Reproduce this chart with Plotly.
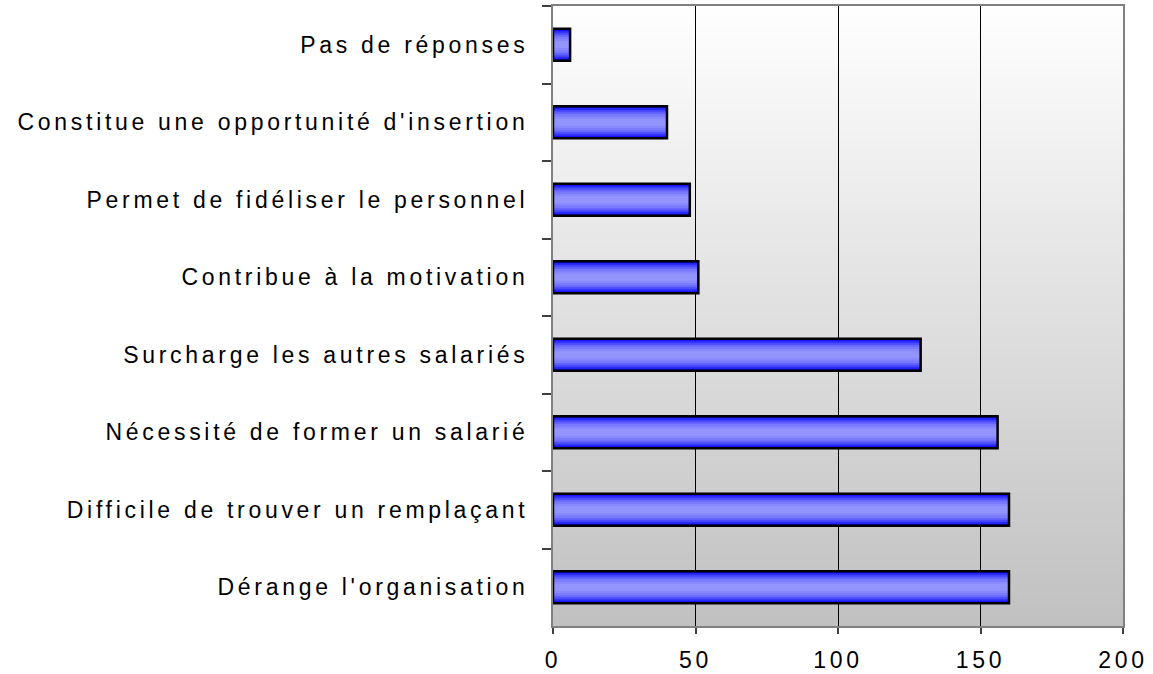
import plotly.graph_objects as go

# Data (top to bottom)
categories = [
    "Pas de réponses",
    "Constitue une opportunité d'insertion",
    "Permet de fidéliser le personnel",
    "Contribue à la motivation",
    "Surcharge les autres salariés",
    "Nécessité de former un salarié",
    "Difficile de trouver un remplaçant",
    "Dérange l'organisation",
]
values = [6, 40, 48, 51, 129, 156, 160, 160]
x_ticks = [0, 50, 100, 150, 200]

fig = go.Figure()

# Gradient-looking bars: overlaid bars of decreasing thickness
layers = [
    (0.41, "#0c0cf2"),
    (0.36, "#2c2cfa"),
    (0.31, "#4c4cff"),
    (0.26, "#6666ff"),
    (0.21, "#7a7aff"),
    (0.15, "#8888ff"),
    (0.09, "#9494ff"),
]
for w, c in layers:
    fig.add_trace(go.Bar(
        x=values, y=categories, orientation="h", width=w,
        marker=dict(color=c, line=dict(width=0)),
        hoverinfo="skip", showlegend=False,
    ))
# outline
fig.add_trace(go.Bar(
    x=values, y=categories, orientation="h", width=0.41,
    marker=dict(color="rgba(0,0,0,0)", line=dict(color="black", width=2.5)),
    hoverinfo="skip", showlegend=False,
))

# Background vertical gradient (white -> light gray) in plot area
n = 60
shapes = []
for i in range(n):
    t = (i + 0.5) / n
    g = round(255 - (255 - 192) * t)
    shapes.append(dict(
        type="rect", xref="x domain", yref="y domain",
        x0=0, x1=1, y0=1 - (i + 1) / n - 0.002, y1=1 - i / n,
        fillcolor=f"rgb({g},{g},{g})", line=dict(width=0), layer="below",
    ))

fig.update_layout(
    width=1153, height=674,
    margin=dict(l=553, r=30, t=6, b=48),
    paper_bgcolor="white",
    plot_bgcolor="white",
    barmode="overlay",
    shapes=shapes,
    font=dict(family="Liberation Sans, Arial, sans-serif", size=23, color="black"),
    xaxis=dict(
        range=[0, 200], tickvals=x_ticks, ticktext=[str(v) for v in x_ticks],
        automargin=False,
        showgrid=True, gridcolor="black", gridwidth=1,
        zeroline=False,
        showline=True, linecolor="#808080", linewidth=2, mirror=True,
        ticks="outside", ticklen=6, tickcolor="#404040", tickwidth=1.5,
        ticklabelstandoff=6,
        tickfont=dict(size=23),
        fixedrange=True,
    ),
    yaxis=dict(
        type="category", categoryorder="array", categoryarray=categories,
        range=[7.5, -0.5],
        automargin=False,
        showgrid=False, zeroline=False,
        showline=True, linecolor="#808080", linewidth=2, mirror=True,
        ticks="outside", tickson="boundaries", ticklen=9,
        tickcolor="#404040", tickwidth=1.5,
        ticklabelstandoff=18,
        tickfont=dict(size=23),
        fixedrange=True,
    ),
)

post = """
document.body.style.margin='0';
document.body.style.padding='0';
var s=document.createElement('style');
s.innerHTML='.xtick text, .ytick text{letter-spacing:3.7px;}';
document.head.appendChild(s);
"""
fig.write_html("out.html", config={"displayModeBar": False}, post_script=post)
